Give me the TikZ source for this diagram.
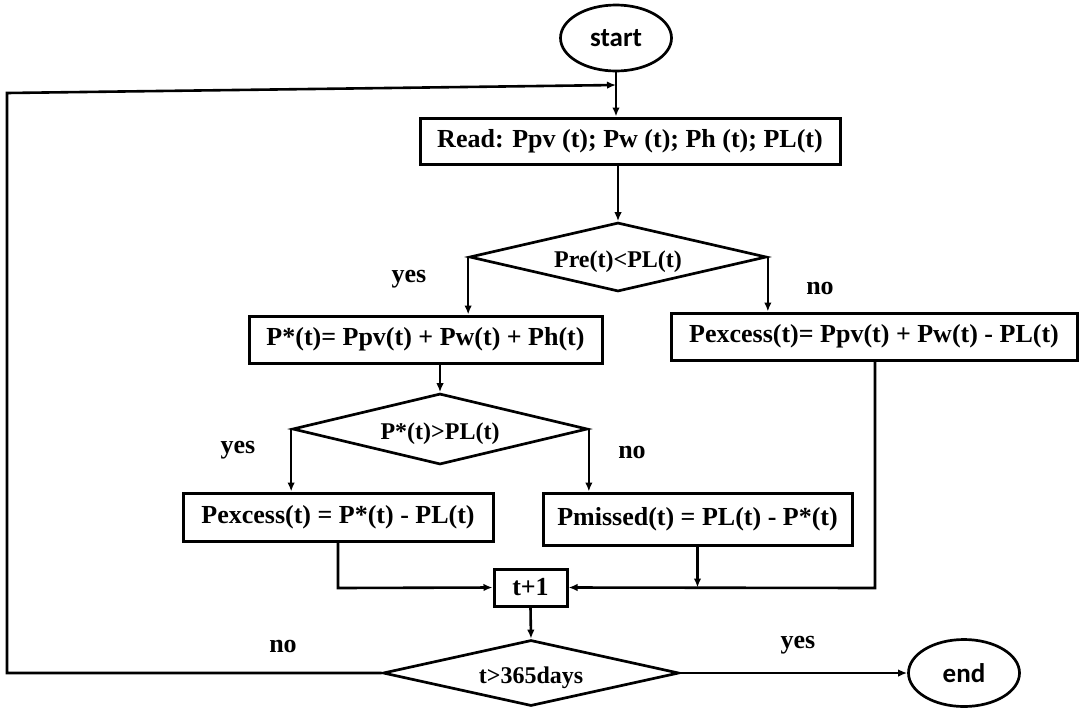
\documentclass[tikz,border=0pt]{standalone}
\usepackage{fontspec}
\setmainfont{Liberation Serif}
\newfontfamily\calfont{Carlito}
\usetikzlibrary{shapes.geometric,arrows.meta}
\begin{document}
\begin{tikzpicture}[x=1pt,y=-1pt,
  box/.style={draw,line width=3pt,rectangle,inner sep=0pt,font=\fontsize{26}{28}\selectfont\bfseries},
  dec/.style={draw,line width=2.7pt,diamond,aspect=4.3,inner sep=0pt,text height=25pt,text depth=5pt,font=\fontsize{24}{26}\selectfont\bfseries},
  term/.style={draw,line width=2.7pt,ellipse,inner sep=0pt,font=\calfont\fontsize{27}{29}\selectfont\bfseries},
  lbl/.style={font=\fontsize{26}{28}\selectfont\bfseries,inner sep=0pt},
  arr/.style={line width=2.6pt,-{Latex[length=9pt,width=7.5pt]}}]
\useasboundingbox (0,0) rectangle (1084,710);
\node[term,minimum width=111pt,minimum height=66pt] (start) at (616,38) {start};
\node[box,minimum width=420pt,minimum height=46pt] (read) at (630,141) {Read: Ppv (t); Pw (t); Ph (t); PL(t)};
\node[dec,minimum width=297pt,minimum height=69pt] (d1) at (618,257) {Pre(t)<PL(t)};
\node[box,minimum width=353pt,minimum height=47pt] (pstar) at (425.5,339.5) {P*(t)= Ppv(t) + Pw(t) + Ph(t)};
\node[box,minimum width=406pt,minimum height=47pt] (pex1) at (874,336.5) {Pexcess(t)= Ppv(t) + Pw(t) - PL(t)};
\node[dec,minimum width=295pt,minimum height=71pt] (d2) at (440,429) {P*(t)>PL(t)};
\node[box,minimum width=310pt,minimum height=48pt] (pex2) at (338,517) {Pexcess(t) = P*(t) - PL(t)};
\node[box,minimum width=309pt,minimum height=52pt] (pmiss) at (697.5,519) {Pmissed(t) = PL(t) - P*(t)};
\node[box,minimum width=73pt,minimum height=37pt] (t1) at (530.5,587.5) {t+1};
\node[dec,minimum width=296pt,minimum height=66pt] (d3) at (531,673) {t>365days};
\node[term,minimum width=111pt,minimum height=67pt] (end) at (964,673) {end};
\node[lbl] (y1) at (409,279) {yes};
\node[lbl] (n1) at (820,288) {no};
\node[lbl] (y2) at (238,450) {yes};
\node[lbl] (n2) at (632,452) {no};
\node[lbl] (n3) at (283,646) {no};
\node[lbl] (y3) at (798,645) {yes};
\coordinate (c1) at (7,673);
\coordinate (c2) at (7,93);
\coordinate (lp) at (616,85);
\coordinate (r1) at (338,588);
\coordinate (r2) at (875,588);
\draw[arr] (start.south) -- (start.south |- read.north);
\draw[arr] (d3.west) -- (c1) -- (c2) -- (lp);
\draw[arr] (d1.north |- read.south) -- (d1.north);
\draw[arr] (d1.west) -- (d1.west |- pstar.north);
\draw[arr] (d1.east) -- (d1.east |- pex1.north);
\draw[arr] (d2.north |- pstar.south) -- (d2.north);
\draw[arr] (d2.west) -- (d2.west |- pex2.north);
\draw[arr] (d2.east) -- (d2.east |- pmiss.north);
\draw[arr] (pex2.south) -- (r1) -- (t1.west);
\draw[arr] (pmiss.south) -- (pmiss.south |- t1.east);
\draw[arr] (pex1.south -| r2) -- (r2) -- (t1.east);
\draw[arr] (t1.south) -- (d3.north);
\draw[arr] (d3.east) -- (end.west);
\end{tikzpicture}
\end{document}
